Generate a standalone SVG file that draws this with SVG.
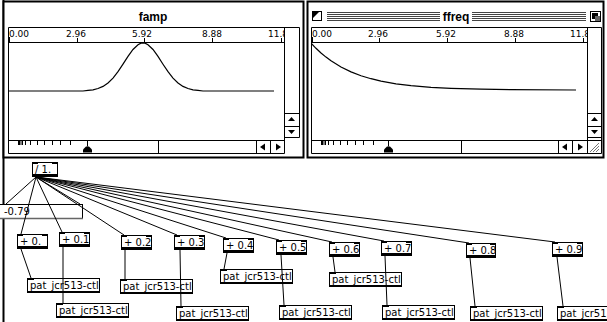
<svg xmlns="http://www.w3.org/2000/svg" width="607" height="322" viewBox="0 0 607 322">
<style>
.ln{stroke:#000;stroke-width:1;fill:none}
.fr{fill:#fff;stroke:#000;stroke-width:2}
.rl{font-family:"DejaVu Sans",sans-serif;font-size:9px;fill:#000}
.ttl{font-family:"Liberation Sans",Arial,sans-serif;font-weight:bold;font-size:12px;fill:#000}
.bx{fill:#fff;stroke:#000;stroke-width:1}
.bar{fill:#000}
.bt{font-family:"DejaVu Sans",sans-serif;font-size:10px;fill:#000}
.crv{stroke:#000;stroke-width:1.2;fill:none}
.cord{stroke:#000;stroke-width:1;fill:none}
.stripe{stroke:#444;stroke-width:1}
</style>
<defs>
<clipPath id="c1"><rect x="9" y="28" width="275" height="112"/></clipPath>
<clipPath id="c2"><rect x="312" y="28" width="275" height="112"/></clipPath>
</defs>
<rect width="607" height="322" fill="#fff"/>
<line x1="3.5" y1="0" x2="3.5" y2="322" stroke="#000" stroke-width="2"/>

<g id="famp">
<rect class="fr" x="3.5" y="1.5" width="300" height="156"/>
<text class="ttl" x="153" y="21" text-anchor="middle">famp</text>
<path class="ln" d="M8.5,27.5H299.5V137.5H284.5M8.5,27.5V153.5H284.5M284.5,27.5V153.5M8.5,42.5H284.5M8.5,140.5H284.5M284.5,113.5H299.5M284.5,126.5H299.5M158.5,140.5V153.5M256.5,140.5V153.5M270.5,140.5V153.5"/>
<g clip-path="url(#c1)">
<text class="rl" x="9" y="37">0.00</text>
<text class="rl" x="76" y="37" text-anchor="middle">2.96</text>
<text class="rl" x="142" y="37" text-anchor="middle">5.92</text>
<text class="rl" x="212" y="37" text-anchor="middle">8.88</text>
<text class="rl" x="278" y="37" text-anchor="middle">11.8</text>
<path class="ln" d="M9.5,37V42.5M77.5,38V42.5M144.5,38V42.5M212.5,38V42.5M281.5,38V42.5"/>
<path class="crv" d="M8,91L83,91L88,90.4L93,89.8L98,88.5L103,86.4L108,83L113,78.1L118,71.7L123,64.2L128,56.4L133,49.5L138,44.7L141,43.2L145,43.2L148,44.7L153,49.5L158,56.4L163,64.2L168,71.7L173,78.1L178,83L183,86.4L188,88.5L193,89.8L198,90.4L203,91L274,91"/>
</g>
<path class="ln" d="M18.5,141V145M19.5,141V145M21,141V145M22.5,141V145M25.5,141V145M30.5,141V145M37.5,141V145M44.5,141V145M52.5,141V145M60.5,141V145M70.5,141V145M87.5,141V146.5"/>
<path d="M83,152.5V149.5L86,146.5H89L92,149.5V152.5Z" fill="#000"/>
<path d="M288,121H295L291.5,117Z" fill="#000"/>
<path d="M288,130H295L291.5,134Z" fill="#000"/>
<path d="M260,147L265,143.5V150.5Z" fill="#000"/>
<path d="M281,147L276,143.5V150.5Z" fill="#000"/>
</g>

<g id="ffreq">
<rect class="fr" x="307.5" y="1.5" width="296" height="156"/>
<path class="stripe" d="M327,12.5H440M327,14.5H440M327,16.5H440M327,18.5H440M327,20.5H440M472,12.5H586M472,14.5H586M472,16.5H586M472,18.5H586M472,20.5H586"/>
<text class="ttl" x="456" y="21" text-anchor="middle">ffreq</text>
<rect x="312.5" y="11.5" width="9" height="9" fill="#fff" stroke="#000"/>
<path d="M313,12H319L313,18Z" fill="#000"/>
<rect x="590.5" y="11.5" width="10" height="10" fill="#fff" stroke="#000"/>
<rect x="592" y="13" width="6" height="6" fill="#000"/>
<rect x="595" y="16" width="5" height="5" fill="#666"/>
<path class="ln" d="M311.5,27.5H601.5V153.5H311.5V27.5M587.5,27.5V153.5M311.5,42.5H587.5M311.5,140.5H601.5M587.5,113.5H601.5M587.5,126.5H601.5M587.5,137.5H601.5M461.5,140.5V153.5M558.5,140.5V153.5M572.5,140.5V153.5"/>
<g clip-path="url(#c2)">
<text class="rl" x="312" y="37">0.00</text>
<text class="rl" x="378" y="37" text-anchor="middle">2.96</text>
<text class="rl" x="446" y="37" text-anchor="middle">5.92</text>
<text class="rl" x="514" y="37" text-anchor="middle">8.88</text>
<text class="rl" x="580" y="37" text-anchor="middle">11.8</text>
<path class="ln" d="M312.5,37V42.5M379.5,38V42.5M447.5,38V42.5M515.5,38V42.5M583.5,38V42.5"/>
<path class="crv" d="M311,43L316,48.3L321,53L326,57.1L331,60.8L341,67L351,71.9L361,75.7L371,78.7L381,81.1L396,83.8L411,85.7L431,87.3L451,88.3L481,89.2L511,89.6L576,90"/>
</g>
<path class="ln" d="M321.5,141V145M322.5,141V145M324,141V145M325.5,141V145M328.5,141V145M333.5,141V145M340.5,141V145M347.5,141V145M355.5,141V145M363.5,141V145M373.5,141V145M388.5,141V146.5"/>
<path d="M384,152.5V149.5L387,146.5H390L393,149.5V152.5Z" fill="#000"/>
<path d="M591,121H598L594.5,117Z" fill="#000"/>
<path d="M591,130H598L594.5,134Z" fill="#000"/>
<path d="M562,147L567,143.5V150.5Z" fill="#000"/>
<path d="M583,147L578,143.5V150.5Z" fill="#000"/>
<path d="M590,152L599,143M593,152L599,146M596,152L599,149" stroke="#777" stroke-width="1"/>
</g>

<g id="msg-079">
<rect class="bx" x="-1.5" y="204.5" width="84" height="14"/>
<line x1="0" y1="218.5" x2="83" y2="218.5" stroke="#666" stroke-width="1.5"/>
<text class="bt" x="4" y="215">-0.79</text>
</g>

<g id="div1">
<rect class="bx" x="32.5" y="162.5" width="25" height="14"/>
<rect class="bar" x="32" y="174" width="26" height="3"/>
<rect class="bar" x="32" y="162" width="6" height="2"/>
<rect class="bar" x="52" y="162" width="6" height="2"/>
<text class="bt" x="35" y="172.5">/ 1.</text>
</g>

<g id="add0"><rect class="bx" x="17.5" y="234.5" width="30" height="14"/><rect class="bar" x="17" y="246" width="31" height="3"/><rect class="bar" x="17" y="234" width="6" height="2"/><rect class="bar" x="42" y="234" width="6" height="2"/><text class="bt" x="20" y="244.5">+ 0.</text></g>
<g id="add1"><rect class="bx" x="59.5" y="232.5" width="30" height="14"/><rect class="bar" x="59" y="244" width="31" height="3"/><rect class="bar" x="59" y="232" width="6" height="2"/><rect class="bar" x="84" y="232" width="6" height="2"/><text class="bt" x="62" y="242.5">+ 0.1</text></g>
<g id="add2"><rect class="bx" x="121.5" y="235.5" width="30" height="14"/><rect class="bar" x="121" y="247" width="31" height="3"/><rect class="bar" x="121" y="235" width="6" height="2"/><rect class="bar" x="146" y="235" width="6" height="2"/><text class="bt" x="124" y="245.5">+ 0.2</text></g>
<g id="add3"><rect class="bx" x="174.5" y="235.5" width="30" height="14"/><rect class="bar" x="174" y="247" width="31" height="3"/><rect class="bar" x="174" y="235" width="6" height="2"/><rect class="bar" x="199" y="235" width="6" height="2"/><text class="bt" x="177" y="245.5">+ 0.3</text></g>
<g id="add4"><rect class="bx" x="223.5" y="238.5" width="30" height="14"/><rect class="bar" x="223" y="250" width="31" height="3"/><rect class="bar" x="223" y="238" width="6" height="2"/><rect class="bar" x="248" y="238" width="6" height="2"/><text class="bt" x="226" y="248.5">+ 0.4</text></g>
<g id="add5"><rect class="bx" x="276.5" y="240.5" width="30" height="14"/><rect class="bar" x="276" y="252" width="31" height="3"/><rect class="bar" x="276" y="240" width="6" height="2"/><rect class="bar" x="301" y="240" width="6" height="2"/><text class="bt" x="279" y="250.5">+ 0.5</text></g>
<g id="add6"><rect class="bx" x="329.5" y="242.5" width="30" height="14"/><rect class="bar" x="329" y="254" width="31" height="3"/><rect class="bar" x="329" y="242" width="6" height="2"/><rect class="bar" x="354" y="242" width="6" height="2"/><text class="bt" x="332" y="252.5">+ 0.6</text></g>
<g id="add7"><rect class="bx" x="381.5" y="241.5" width="30" height="14"/><rect class="bar" x="381" y="253" width="31" height="3"/><rect class="bar" x="381" y="241" width="6" height="2"/><rect class="bar" x="406" y="241" width="6" height="2"/><text class="bt" x="384" y="251.5">+ 0.7</text></g>
<g id="add8"><rect class="bx" x="466.5" y="243.5" width="29" height="14"/><rect class="bar" x="466" y="255" width="30" height="3"/><rect class="bar" x="466" y="243" width="6" height="2"/><rect class="bar" x="490" y="243" width="6" height="2"/><text class="bt" x="469" y="253.5">+ 0.8</text></g>
<g id="add9"><rect class="bx" x="552.5" y="242.5" width="30" height="14"/><rect class="bar" x="552" y="254" width="31" height="3"/><rect class="bar" x="552" y="242" width="6" height="2"/><rect class="bar" x="577" y="242" width="6" height="2"/><text class="bt" x="555" y="252.5">+ 0.9</text></g>

<g id="pat1"><rect class="bx" x="27.5" y="278.5" width="72" height="14"/><rect class="bar" x="27" y="291" width="73" height="2"/><rect class="bar" x="27" y="278" width="7" height="2"/><text class="bt" x="30" y="288.5">pat_jcr513-ctl</text></g>
<g id="pat2"><rect class="bx" x="56.5" y="303.5" width="72" height="14"/><rect class="bar" x="56" y="316" width="73" height="2"/><rect class="bar" x="56" y="303" width="7" height="2"/><text class="bt" x="59" y="313.5">pat_jcr513-ctl</text></g>
<g id="pat3"><rect class="bx" x="120.5" y="279.5" width="72" height="14"/><rect class="bar" x="120" y="292" width="73" height="2"/><rect class="bar" x="120" y="279" width="7" height="2"/><text class="bt" x="123" y="289.5">pat_jcr513-ctl</text></g>
<g id="pat4"><rect class="bx" x="220.5" y="269.5" width="72" height="14"/><rect class="bar" x="220" y="282" width="73" height="2"/><rect class="bar" x="220" y="269" width="7" height="2"/><text class="bt" x="223" y="279.5">pat_jcr513-ctl</text></g>
<g id="pat5"><rect class="bx" x="176.5" y="306.5" width="72" height="14"/><rect class="bar" x="176" y="319" width="73" height="2"/><rect class="bar" x="176" y="306" width="7" height="2"/><text class="bt" x="179" y="316.5">pat_jcr513-ctl</text></g>
<g id="pat6"><rect class="bx" x="279.5" y="305.5" width="72" height="14"/><rect class="bar" x="279" y="318" width="73" height="2"/><rect class="bar" x="279" y="305" width="7" height="2"/><text class="bt" x="282" y="315.5">pat_jcr513-ctl</text></g>
<g id="pat7"><rect class="bx" x="329.5" y="272.5" width="72" height="14"/><rect class="bar" x="329" y="285" width="73" height="2"/><rect class="bar" x="329" y="272" width="7" height="2"/><text class="bt" x="332" y="282.5">pat_jcr513-ctl</text></g>
<g id="pat8"><rect class="bx" x="382.5" y="305.5" width="72" height="14"/><rect class="bar" x="382" y="318" width="73" height="2"/><rect class="bar" x="382" y="305" width="7" height="2"/><text class="bt" x="385" y="315.5">pat_jcr513-ctl</text></g>
<g id="pat9"><rect class="bx" x="470.5" y="306.5" width="72" height="14"/><rect class="bar" x="470" y="319" width="73" height="2"/><rect class="bar" x="470" y="306" width="7" height="2"/><text class="bt" x="473" y="316.5">pat_jcr513-ctl</text></g>
<g id="pat10"><rect class="bx" x="557.5" y="306.5" width="72" height="14"/><rect class="bar" x="557" y="319" width="73" height="2"/><rect class="bar" x="557" y="306" width="7" height="2"/><text class="bt" x="560" y="316.5">pat_jcr513-ctl</text></g>

<g id="connectors" class="cord">
<path d="M36,177L6,204M36,177L80,204M36,177L21,234M36,177L62,232M36,177L124,235M36,177L177,235M36,177L226,238M36,177L279,240M36,177L332,242M36,177L384,241M36,177L469,243M36,177L555,242"/>
<path d="M21,249L31,278M63,247L63,303M125,250L125,279M180,250L181,306M227,253L224,269M281,255L284,305M333,257L335,272M385,256L387,305M470,258L475,306M557,257L563,306"/>
</g>
</svg>
